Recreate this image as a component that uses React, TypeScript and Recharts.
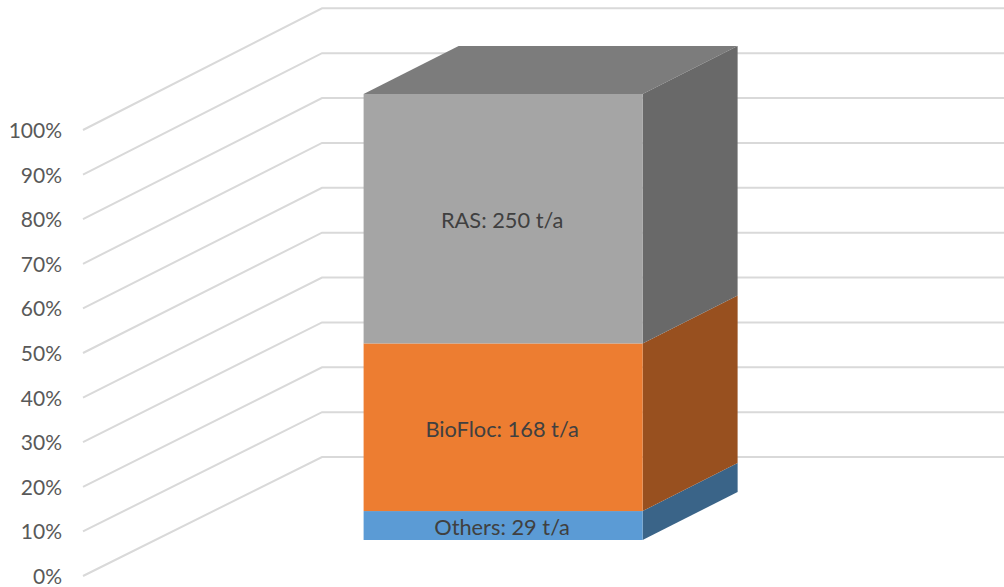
import React from 'react';
import { BarChart, Bar, CartesianGrid, XAxis, YAxis } from 'recharts';

const categories = ['Production'];
const seriesKeys = ['others', 'bioFloc', 'ras'];
const seriesNames = ['Others', 'BioFloc', 'RAS'];
const seriesValues = [29, 168, 250];
const percentTicks = [0, 0.1, 0.2, 0.3, 0.4, 0.5, 0.6, 0.7, 0.8, 0.9, 1];

const frontColors = ['#5b9bd5', '#ed7d31', '#a5a5a5'];
const sideColors = ['#3a6488', '#98501f', '#696969'];
const topColor = '#7c7c7c';

// the fake 3D: floor depth of the whole plot, and where the bar sits on that floor
const PLOT_BOTTOM = 576;
const FLOOR_DX = 239;
const FLOOR_DY = -119;
const BACK_STRETCH = 0.006; // back wall spacing is a touch wider than the front
const BAR_SHIFT_X = 71.5;
const BAR_SHIFT_Y = -36;
const BAR_DEPTH_X = 95;
const BAR_DEPTH_Y = -48;

const data = categories.map((category) => {
  const row: any = { category };
  seriesKeys.forEach((key, i) => {
    row[key] = seriesValues[i];
  });
  return row;
});

function gridLine(props: any) {
  const { x1, x2, y1, key } = props;
  const backY = y1 + FLOOR_DY - (PLOT_BOTTOM - y1) * BACK_STRETCH;
  const points = `${x1},${y1} ${x1 + FLOOR_DX},${backY} ${x2 + FLOOR_DX},${backY}`;
  return <polyline key={key} points={points} fill="none" stroke="#d9d9d9" strokeWidth={2} />;
}

function makeBlock(index: number) {
  return function Block(props: any) {
    const x = props.x + BAR_SHIFT_X;
    const y = props.y + BAR_SHIFT_Y;
    const { width, height } = props;
    const right = x + width;
    const bottom = y + height;
    const isTop = index === seriesKeys.length - 1;
    return (
      <g>
        {isTop && (
          <polygon
            points={`${x},${y} ${right},${y} ${right + BAR_DEPTH_X},${y + BAR_DEPTH_Y} ${x + BAR_DEPTH_X},${y + BAR_DEPTH_Y}`}
            fill={topColor}
          />
        )}
        <polygon
          points={`${right},${y} ${right + BAR_DEPTH_X},${y + BAR_DEPTH_Y} ${right + BAR_DEPTH_X},${bottom + BAR_DEPTH_Y} ${right},${bottom}`}
          fill={sideColors[index]}
        />
        <rect x={x} y={y} width={width} height={height} fill={frontColors[index]} />
        <text
          x={x + width / 2 - 1}
          y={y + height / 2 + 1}
          textAnchor="middle"
          dominantBaseline="central"
          fontSize={21.8}
          fill="#404040"
        >
          {`${seriesNames[index]}: ${seriesValues[index]} t/a`}
        </text>
      </g>
    );
  };
}

export default function App() {
  return (
    <div style={{ position: 'absolute', left: 0, top: 0, fontFamily: 'Lato, sans-serif' }}>
      <BarChart
        width={1004}
        height={587}
        data={data}
        stackOffset="expand"
        barCategoryGap="30%"
        margin={{ top: 130, right: 224, bottom: 11, left: 0 }}
      >
        <CartesianGrid vertical={false} horizontal={gridLine} />
        <XAxis dataKey="category" hide />
        <YAxis
          width={83}
          domain={[0, 1]}
          ticks={percentTicks}
          interval={0}
          axisLine={false}
          tickLine={false}
          tickSize={0}
          tickMargin={21}
          dy={0.5}
          tick={{ fontSize: 21, fill: '#595959' }}
          tickFormatter={(v: number) => `${Math.round(v * 100)}%`}
        />
        {seriesKeys.map((key, i) => (
          <Bar key={key} dataKey={key} stackId="a" shape={makeBlock(i)} isAnimationActive={false} />
        ))}
      </BarChart>
    </div>
  );
}
